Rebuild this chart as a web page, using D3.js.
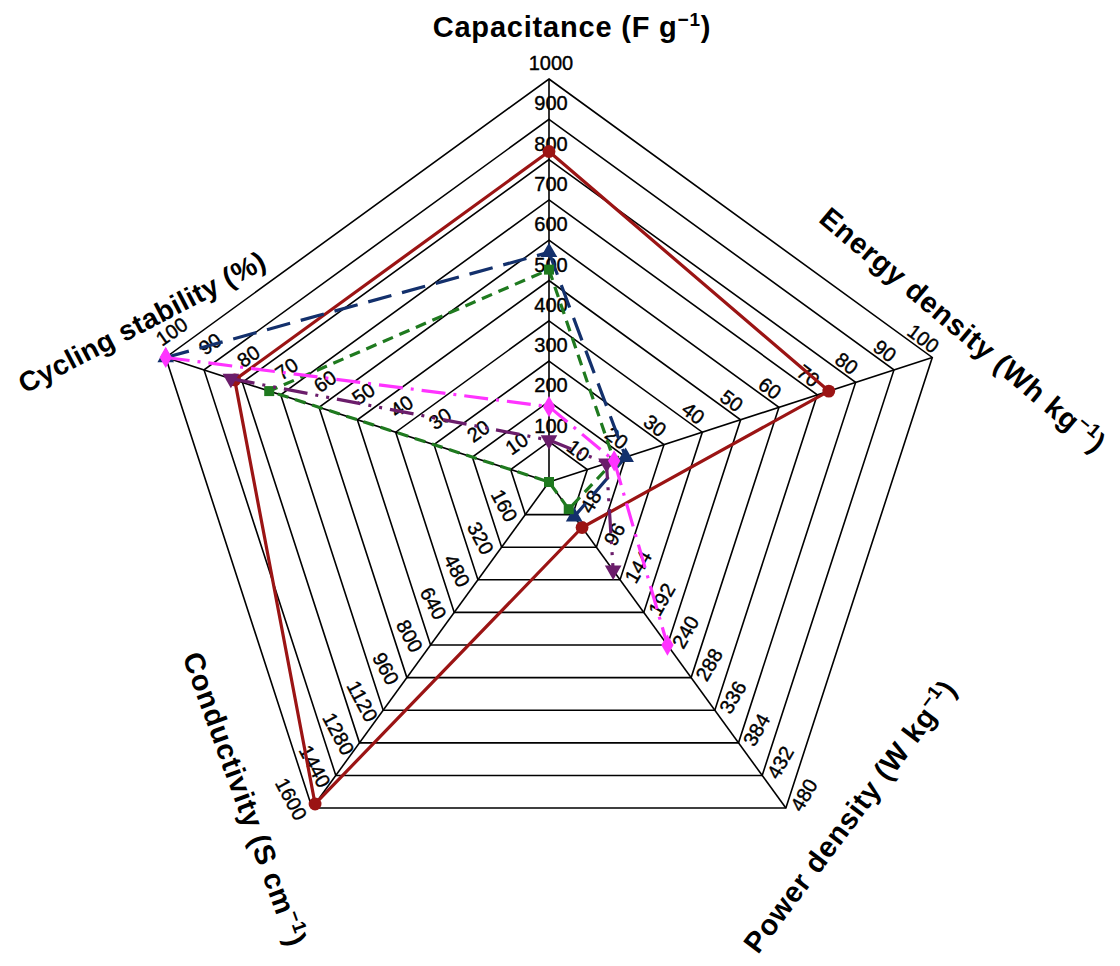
<!DOCTYPE html>
<html>
<head>
<meta charset="utf-8">
<script src="https://cdn.jsdelivr.net/npm/d3@7"></script>
<style>
  body { margin: 0; background: #fff; }
  svg { display: block; }
  text { font-family: "Liberation Sans", Arial, Helvetica, sans-serif; fill: #000; }
</style>
</head>
<body>
<svg id="chart" width="1120" height="966"></svg>
<script>
// Radar axes (clockwise from the top)
const axisNames = ["Capacitance", "Energy density", "Power density", "Conductivity", "Cycling stability"];
const axisUnits = ["F g", "Wh kg", "W kg", "S cm", "%"];
const axisMax = [1000, 100, 480, 1600, 100];

// Tick labels on each axis
const capacitanceTicks = [100, 200, 300, 400, 500, 600, 700, 800, 900, 1000];
const energyTicks = [10, 20, 30, 40, 50, 60, 70, 80, 90, 100];
const powerTicks = [48, 96, 144, 192, 240, 288, 336, 384, 432, 480];
const conductivityTicks = [160, 320, 480, 640, 800, 960, 1120, 1280, 1440, 1600];
const cyclingTicks = [10, 20, 30, 40, 50, 60, 70, 80, 90, 100];

// Series values: [capacitance, energy, power, conductivity, cycling]; null = not reported
const seriesRed = [820, 73, 67, 1580, 82];
const seriesNavy = [570, 20, 51, null, 100];
const seriesGreen = [527, 17, 40, 0, 73];
const seriesPurple = [104, 15, 130, null, 83];
const seriesMagenta = [187, 17, 240, null, 100];

const tickSets = [capacitanceTicks, energyTicks, powerTicks, conductivityTicks, cyclingTicks];

const svg = d3.select("#chart");
const cx = 549, cy = 482, R = 403;
const n = axisNames.length;
const angle = i => i * 2 * Math.PI / n;
const scales = axisMax.map(m => d3.scaleLinear().domain([0, m]).range([0, R]));
const pt = (i, r) => [cx + r * Math.sin(angle(i)), cy - r * Math.cos(angle(i))];

// Grid rings
const grid = svg.append("g").attr("fill", "none").attr("stroke", "#000").attr("stroke-width", 1.6);
const levels = d3.range(1, 11);
grid.selectAll("polygon.ring").data(levels).join("polygon")
  .attr("class", "ring")
  .attr("points", k => d3.range(n).map(i => pt(i, scales[i](tickSets[i][k - 1])).join(",")).join(" "));

// Spokes
grid.selectAll("line.spoke").data(d3.range(n)).join("line")
  .attr("class", "spoke")
  .attr("x1", cx).attr("y1", cy)
  .attr("x2", i => pt(i, R)[0]).attr("y2", i => pt(i, R)[1]);

// Tick labels, placed beside each ring vertex
const tickOffset = [[2, -16], [-9, -19], [18, -13], [-21, -9], [6, -26]];
const tickRotate = [0, 37, -60, 62, -35];
const tickG = svg.append("g").attr("font-size", 20)
  .attr("stroke", "#000").attr("stroke-width", 0.4);
d3.range(n).forEach(i => {
  tickG.selectAll(null).data(tickSets[i]).join("text")
    .attr("transform", v => {
      const p = pt(i, scales[i](v));
      return `translate(${p[0] + tickOffset[i][0]},${p[1] + tickOffset[i][1]}) rotate(${tickRotate[i]})`;
    })
    .attr("text-anchor", "middle")
    .attr("dy", "0.35em")
    .text(v => v);
});

// Axis titles: [x, y, rotation, font size, letter spacing]
const titlePos = [[572, 27, 0, 29, 0.8], [963, 330, 40, 29, 0.8], [850, 816, -53, 29, 0.8],
                  [245, 799, 70, 29, 0.8], [142, 322, -27.5, 28, 0.4]];
const titleG = svg.append("g").attr("font-weight", "bold");
d3.range(n).forEach(i => {
  const [x, y, r, fs, ls] = titlePos[i];
  const t = titleG.append("text")
    .attr("transform", `translate(${x},${y}) rotate(${r})`)
    .attr("font-size", fs)
    .attr("letter-spacing", ls)
    .attr("text-anchor", "middle")
    .attr("dy", "0.35em");
  if (axisUnits[i] === "%") {
    t.text(`${axisNames[i]} (%)`);
  } else {
    t.append("tspan").text(`${axisNames[i]} (${axisUnits[i]}`);
    t.append("tspan").attr("font-size", 19).attr("dy", -11).text("\u22121");
    t.append("tspan").attr("dy", 11).text(")");
  }
});

// Data series
const series = [
  { values: seriesRed, color: "#9b1414", dash: null, symbol: d3.symbolCircle, size: 130, rot: 0 },
  { values: seriesNavy, color: "#13306c", dash: "24,11", symbol: d3.symbolTriangle, size: 120, rot: 0 },
  { values: seriesGreen, color: "#1f7a1f", dash: "11,7", symbol: d3.symbolSquare, size: 100, rot: 0 },
  { values: seriesPurple, color: "#6b1d6b", dash: "24,8,3,8,3,8", symbol: d3.symbolTriangle, size: 120, rot: 180 },
  { values: seriesMagenta, color: "#ff33ff", dash: "24,8,3,8", symbol: d3.symbolDiamond, size: 130, rot: 0 }
];

const line = d3.line()
  .defined(d => d.v !== null)
  .x(d => pt(d.i, scales[d.i](d.v))[0])
  .y(d => pt(d.i, scales[d.i](d.v))[1]);

series.forEach(s => {
  const pts = s.values.map((v, i) => ({ v, i }));
  const closed = pts.concat([pts[0]]);
  svg.append("path")
    .datum(closed)
    .attr("d", line)
    .attr("fill", "none")
    .attr("stroke", s.color)
    .attr("stroke-width", 3.2)
    .attr("stroke-dasharray", s.dash)
    .attr("stroke-linejoin", "round");
  svg.append("g").selectAll("path").data(pts.filter(d => d.v !== null)).join("path")
    .attr("d", d3.symbol().type(s.symbol).size(s.size))
    .attr("transform", d => {
      const p = pt(d.i, scales[d.i](d.v));
      return `translate(${p[0]},${p[1]}) rotate(${s.rot})`;
    })
    .attr("fill", s.color);
});
</script>
</body>
</html>
